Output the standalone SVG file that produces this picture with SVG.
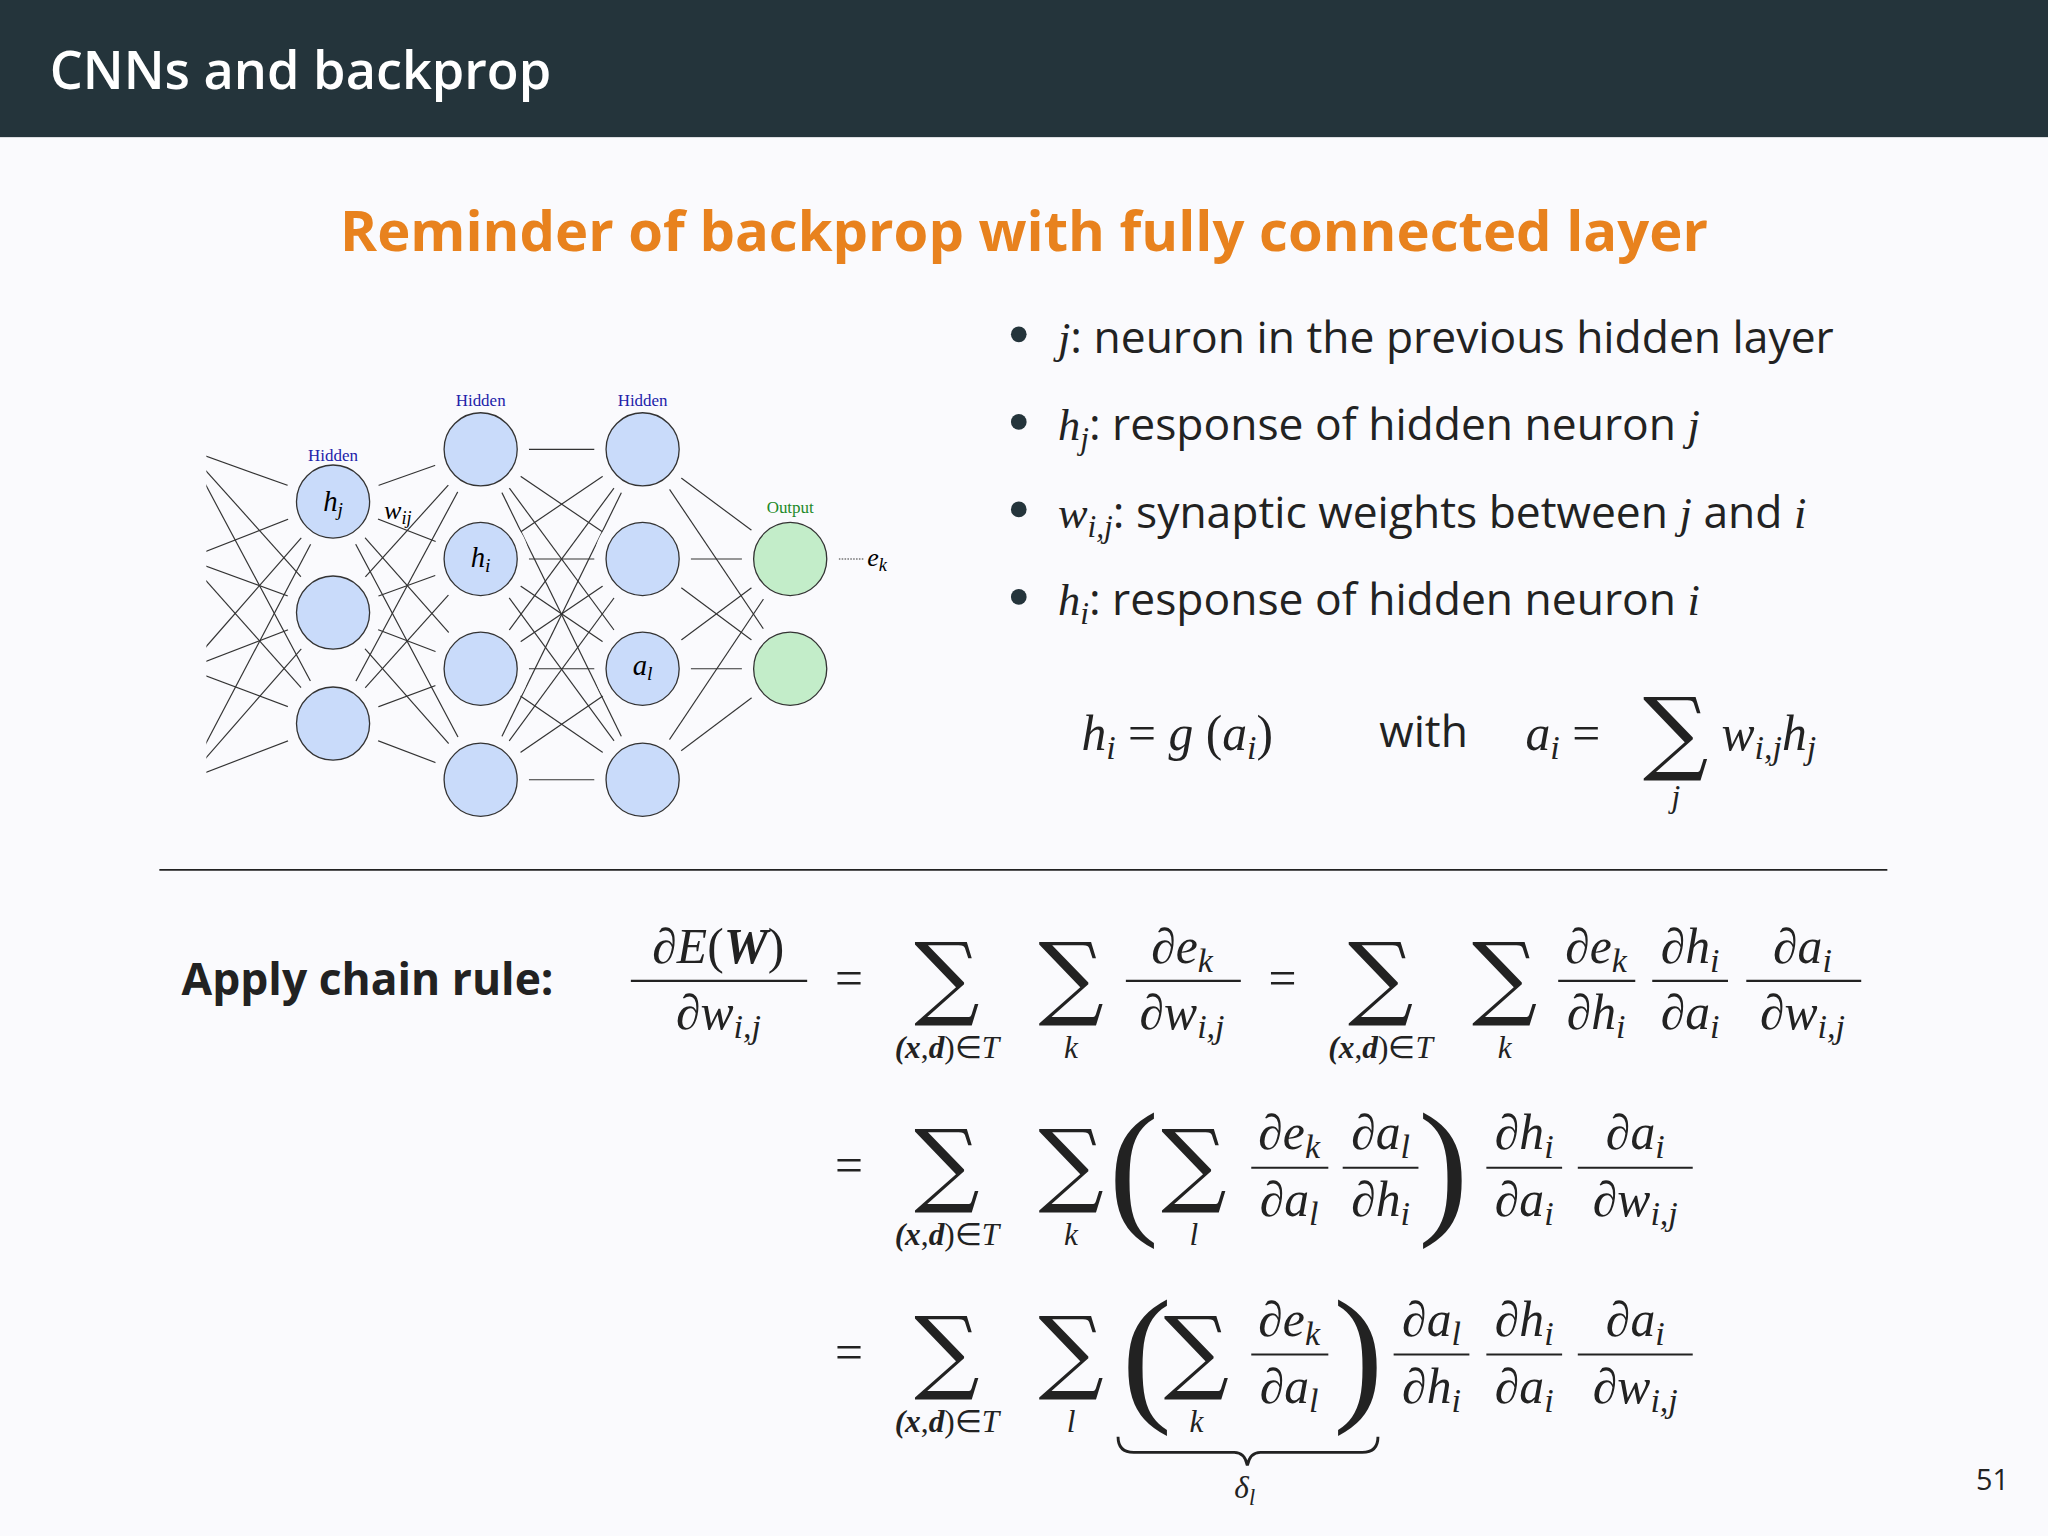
<svg xmlns="http://www.w3.org/2000/svg" width="2048" height="1536" viewBox="0 0 2048 1536">
<defs>
<style>
.t{font-family:"Open Sans","Liberation Sans",sans-serif}
.m{font-family:"Liberation Serif",serif;font-style:italic}
.r{font-family:"Liberation Serif",serif}
.e line{stroke:#333;stroke-width:0.9}
.n{fill:#c9dbfa;stroke:#333;stroke-width:1}
.o{fill:#c3edc9;stroke:#333;stroke-width:1}
.gap{fill:#fafafd}
.bar{stroke:#222;stroke-width:1.6}
.f{font-size:38px;text-anchor:middle;fill:#222}
.sm{font-size:24px;text-anchor:middle;fill:#222}
.sig{font-family:"DejaVu Serif",serif;font-size:70px;text-anchor:middle;fill:#222}
</style>
<clipPath id="cl"><rect x="158" y="250" width="600" height="450"/></clipPath>
</defs>
<rect width="2048" height="1536" fill="#fafafd"/>
<g transform="scale(1.30612)">
<rect x="0" y="0" width="1568" height="105" fill="#24343b"/>
<text class="t" x="38" y="68" font-size="40" font-weight="600" fill="#fff">CNNs and backprop</text>
<text class="t" x="784" y="192" font-size="43" font-weight="700" fill="#e8821e" text-anchor="middle">Reminder of backprop with fully connected layer</text>

<g id="connectors" class="e">
<g clip-path="url(#cl)">
<line x1="143" y1="344" x2="255" y2="384"/><line x1="143" y1="344" x2="255" y2="469"/><line x1="143" y1="344" x2="255" y2="554"/>
<line x1="143" y1="428" x2="255" y2="384"/><line x1="143" y1="428" x2="255" y2="469"/><line x1="143" y1="428" x2="255" y2="554"/>
<line x1="143" y1="512" x2="255" y2="384"/><line x1="143" y1="512" x2="255" y2="469"/><line x1="143" y1="512" x2="255" y2="554"/>
<line x1="143" y1="597" x2="255" y2="384"/><line x1="143" y1="597" x2="255" y2="469"/><line x1="143" y1="597" x2="255" y2="554"/>
</g>
<line x1="255" y1="384" x2="368" y2="344"/><line x1="255" y1="384" x2="368" y2="428"/><line x1="255" y1="384" x2="368" y2="512"/><line x1="255" y1="384" x2="368" y2="597"/>
<line x1="255" y1="469" x2="368" y2="344"/><line x1="255" y1="469" x2="368" y2="428"/><line x1="255" y1="469" x2="368" y2="512"/><line x1="255" y1="469" x2="368" y2="597"/>
<line x1="255" y1="554" x2="368" y2="344"/><line x1="255" y1="554" x2="368" y2="428"/><line x1="255" y1="554" x2="368" y2="512"/><line x1="255" y1="554" x2="368" y2="597"/>
<line x1="368" y1="344" x2="492" y2="344"/><line x1="368" y1="344" x2="492" y2="428"/><line x1="368" y1="344" x2="492" y2="512"/><line x1="368" y1="344" x2="492" y2="597"/>
<line x1="368" y1="428" x2="492" y2="344"/><line x1="368" y1="428" x2="492" y2="428"/><line x1="368" y1="428" x2="492" y2="512"/><line x1="368" y1="428" x2="492" y2="597"/>
<line x1="368" y1="512" x2="492" y2="344"/><line x1="368" y1="512" x2="492" y2="428"/><line x1="368" y1="512" x2="492" y2="512"/><line x1="368" y1="512" x2="492" y2="597"/>
<line x1="368" y1="597" x2="492" y2="344"/><line x1="368" y1="597" x2="492" y2="428"/><line x1="368" y1="597" x2="492" y2="512"/><line x1="368" y1="597" x2="492" y2="597"/>
<line x1="492" y1="344" x2="605" y2="428"/><line x1="492" y1="344" x2="605" y2="512"/>
<line x1="492" y1="428" x2="605" y2="428"/><line x1="492" y1="428" x2="605" y2="512"/>
<line x1="492" y1="512" x2="605" y2="428"/><line x1="492" y1="512" x2="605" y2="512"/>
<line x1="492" y1="597" x2="605" y2="428"/><line x1="492" y1="597" x2="605" y2="512"/>
<line x1="640" y1="428" x2="662" y2="428" stroke-dasharray="1.2 1"/>
</g>

<g id="nodes">
<g class="gap"><circle cx="255" cy="384" r="37"/><circle cx="255" cy="469" r="37"/><circle cx="255" cy="554" r="37"/>
<circle cx="368" cy="344" r="37"/><circle cx="368" cy="428" r="37"/><circle cx="368" cy="512" r="37"/><circle cx="368" cy="597" r="37"/>
<circle cx="492" cy="344" r="37"/><circle cx="492" cy="428" r="37"/><circle cx="492" cy="512" r="37"/><circle cx="492" cy="597" r="37"/>
<circle cx="605" cy="428" r="37"/><circle cx="605" cy="512" r="37"/></g>
<g id="n1"><circle class="n" cx="255" cy="384" r="28"/><text class="m" x="255" y="391" font-size="22" text-anchor="middle">h<tspan font-size="15" baseline-shift="-4">j</tspan></text></g>
<g id="n2"><circle class="n" cx="255" cy="469" r="28"/></g>
<g id="n3"><circle class="n" cx="255" cy="554" r="28"/></g>
<g id="n4"><circle class="n" cx="368" cy="344" r="28"/></g>
<g id="n5"><circle class="n" cx="368" cy="428" r="28"/><text class="m" x="368" y="434" font-size="22" text-anchor="middle">h<tspan font-size="15" baseline-shift="-4">i</tspan></text></g>
<g id="n6"><circle class="n" cx="368" cy="512" r="28"/></g>
<g id="n7"><circle class="n" cx="368" cy="597" r="28"/></g>
<g id="n8"><circle class="n" cx="492" cy="344" r="28"/></g>
<g id="n9"><circle class="n" cx="492" cy="428" r="28"/></g>
<g id="n10"><circle class="n" cx="492" cy="512" r="28"/><text class="m" x="492" y="517" font-size="22" text-anchor="middle">a<tspan font-size="15" baseline-shift="-4">l</tspan></text></g>
<g id="n11"><circle class="n" cx="492" cy="597" r="28"/></g>
<g id="n12"><circle class="o" cx="605" cy="428" r="28"/></g>
<g id="n13"><circle class="o" cx="605" cy="512" r="28"/></g>
<text class="r" x="255" y="353" font-size="13" fill="#2222aa" text-anchor="middle">Hidden</text>
<text class="r" x="368" y="311" font-size="13" fill="#2222aa" text-anchor="middle">Hidden</text>
<text class="r" x="492" y="311" font-size="13" fill="#2222aa" text-anchor="middle">Hidden</text>
<text class="r" x="605" y="393" font-size="13" fill="#1d8a2a" text-anchor="middle">Output</text>
<text class="m" x="294" y="397" font-size="20">w<tspan font-size="14" baseline-shift="-4">ij</tspan></text>
<text class="m" x="664" y="433" font-size="20">e<tspan font-size="14" baseline-shift="-4">k</tspan></text>
</g>

<g id="bullets" font-size="34" fill="#222">
<circle cx="780" cy="256" r="6" fill="#24343b"/><circle cx="780" cy="323" r="6" fill="#24343b"/><circle cx="780" cy="390" r="6" fill="#24343b"/><circle cx="780" cy="457" r="6" fill="#24343b"/>
<text class="t" x="810" y="270"><tspan class="m">j</tspan>:  neuron in the previous hidden layer</text>
<text class="t" x="810" y="337"><tspan class="m">h<tspan font-size="24" baseline-shift="-7">j</tspan></tspan>:  response of hidden neuron <tspan class="m">j</tspan></text>
<text class="t" x="810" y="404"><tspan class="m">w<tspan font-size="24" baseline-shift="-7">i,j</tspan></tspan>:  synaptic weights between <tspan class="m">j</tspan> and <tspan class="m">i</tspan></text>
<text class="t" x="810" y="471"><tspan class="m">h<tspan font-size="24" baseline-shift="-7">i</tspan></tspan>:  response of hidden neuron <tspan class="m">i</tspan></text>
</g>

<g id="formula" fill="#222">
<text class="m" x="828" y="574" font-size="38">h<tspan font-size="26" baseline-shift="-7">i</tspan><tspan class="r" font-style="normal"> = </tspan>g<tspan font-style="normal"> (</tspan>a<tspan font-size="26" baseline-shift="-7">i</tspan><tspan font-style="normal">)</tspan></text>
<text class="t" x="1056" y="572" font-size="34">with</text>
<text class="m" x="1168" y="574" font-size="38">a<tspan font-size="26" baseline-shift="-7">i</tspan><tspan font-style="normal"> =</tspan></text>
<text class="sig" x="1283" y="584">∑</text>
<text class="m sm" x="1283" y="618">j</text>
<text class="m" x="1318" y="574" font-size="38">w<tspan font-size="26" baseline-shift="-7">i,j</tspan>h<tspan font-size="26" baseline-shift="-7">j</tspan></text>
</g>

<line x1="122" y1="666" x2="1445" y2="666" stroke="#222" stroke-width="1.5"/>

<g id="chain" fill="#222">
<text class="t" x="139" y="762" font-size="34" font-weight="700">Apply chain rule:</text>
<!-- row 1 -->
<text class="m f" x="550" y="737">∂E<tspan font-style="normal">(</tspan><tspan font-weight="bold">W</tspan><tspan font-style="normal">)</tspan></text>
<line class="bar" x1="483" y1="751" x2="618" y2="751"/>
<text class="m f" x="550" y="788">∂w<tspan font-size="26" baseline-shift="-7">i,j</tspan></text>
<text class="r f" x="650" y="762">=</text>
<text class="sig" x="725" y="772">∑</text><text class="m sm" x="725" y="810"><tspan font-weight="bold">(x</tspan><tspan font-style="normal">,</tspan><tspan font-weight="bold">d</tspan><tspan font-style="normal">)∈</tspan>T</text>
<text class="sig" x="820" y="772">∑</text><text class="m sm" x="820" y="810">k</text>
<text class="m f" x="905" y="737">∂e<tspan font-size="26" baseline-shift="-7">k</tspan></text>
<line class="bar" x1="862" y1="751" x2="950" y2="751"/>
<text class="m f" x="905" y="788">∂w<tspan font-size="26" baseline-shift="-7">i,j</tspan></text>
<text class="r f" x="982" y="762">=</text>
<text class="sig" x="1057" y="772">∑</text><text class="m sm" x="1057" y="810"><tspan font-weight="bold">(x</tspan><tspan font-style="normal">,</tspan><tspan font-weight="bold">d</tspan><tspan font-style="normal">)∈</tspan>T</text>
<text class="sig" x="1152" y="772">∑</text><text class="m sm" x="1152" y="810">k</text>
<text class="m f" x="1222" y="737">∂e<tspan font-size="26" baseline-shift="-7">k</tspan></text>
<line class="bar" x1="1193" y1="751" x2="1252" y2="751"/>
<text class="m f" x="1222" y="788">∂h<tspan font-size="26" baseline-shift="-7">i</tspan></text>
<text class="m f" x="1294" y="737">∂h<tspan font-size="26" baseline-shift="-7">i</tspan></text>
<line class="bar" x1="1265" y1="751" x2="1323" y2="751"/>
<text class="m f" x="1294" y="788">∂a<tspan font-size="26" baseline-shift="-7">i</tspan></text>
<text class="m f" x="1380" y="737">∂a<tspan font-size="26" baseline-shift="-7">i</tspan></text>
<line class="bar" x1="1337" y1="751" x2="1425" y2="751"/>
<text class="m f" x="1380" y="788">∂w<tspan font-size="26" baseline-shift="-7">i,j</tspan></text>
<!-- row 2 -->
<text class="r f" x="650" y="905">=</text>
<text class="sig" x="725" y="915">∑</text><text class="m sm" x="725" y="953"><tspan font-weight="bold">(x</tspan><tspan font-style="normal">,</tspan><tspan font-weight="bold">d</tspan><tspan font-style="normal">)∈</tspan>T</text>
<text class="sig" x="820" y="915">∑</text><text class="m sm" x="820" y="953">k</text>
<text class="r" x="868" y="932" font-size="115" text-anchor="middle">(</text>
<text class="sig" x="914" y="915">∑</text><text class="m sm" x="914" y="953">l</text>
<text class="m f" x="987" y="880">∂e<tspan font-size="26" baseline-shift="-7">k</tspan></text>
<line class="bar" x1="958" y1="894" x2="1017" y2="894"/>
<text class="m f" x="987" y="931">∂a<tspan font-size="26" baseline-shift="-7">l</tspan></text>
<text class="m f" x="1057" y="880">∂a<tspan font-size="26" baseline-shift="-7">l</tspan></text>
<line class="bar" x1="1028" y1="894" x2="1086" y2="894"/>
<text class="m f" x="1057" y="931">∂h<tspan font-size="26" baseline-shift="-7">i</tspan></text>
<text class="r" x="1105" y="932" font-size="115" text-anchor="middle">)</text>
<text class="m f" x="1167" y="880">∂h<tspan font-size="26" baseline-shift="-7">i</tspan></text>
<line class="bar" x1="1138" y1="894" x2="1196" y2="894"/>
<text class="m f" x="1167" y="931">∂a<tspan font-size="26" baseline-shift="-7">i</tspan></text>
<text class="m f" x="1252" y="880">∂a<tspan font-size="26" baseline-shift="-7">i</tspan></text>
<line class="bar" x1="1208" y1="894" x2="1296" y2="894"/>
<text class="m f" x="1252" y="931">∂w<tspan font-size="26" baseline-shift="-7">i,j</tspan></text>
<!-- row 3 -->
<text class="r f" x="650" y="1048">=</text>
<text class="sig" x="725" y="1058">∑</text><text class="m sm" x="725" y="1096"><tspan font-weight="bold">(x</tspan><tspan font-style="normal">,</tspan><tspan font-weight="bold">d</tspan><tspan font-style="normal">)∈</tspan>T</text>
<text class="sig" x="820" y="1058">∑</text><text class="m sm" x="820" y="1096">l</text>
<text class="r" x="878" y="1075" font-size="115" text-anchor="middle">(</text>
<text class="sig" x="916" y="1058">∑</text><text class="m sm" x="916" y="1096">k</text>
<text class="m f" x="987" y="1023">∂e<tspan font-size="26" baseline-shift="-7">k</tspan></text>
<line class="bar" x1="958" y1="1037" x2="1017" y2="1037"/>
<text class="m f" x="987" y="1074">∂a<tspan font-size="26" baseline-shift="-7">l</tspan></text>
<text class="r" x="1040" y="1075" font-size="115" text-anchor="middle">)</text>
<path d="M856 1100 Q856 1112 868 1112 L945 1112 Q953 1112 955 1122 Q957 1112 965 1112 L1043 1112 Q1055 1112 1055 1100" fill="none" stroke="#222" stroke-width="2.2"/>
<text class="m sm" x="953" y="1147">δ<tspan font-size="17" baseline-shift="-5">l</tspan></text>
<text class="m f" x="1096" y="1023">∂a<tspan font-size="26" baseline-shift="-7">l</tspan></text>
<line class="bar" x1="1067" y1="1037" x2="1125" y2="1037"/>
<text class="m f" x="1096" y="1074">∂h<tspan font-size="26" baseline-shift="-7">i</tspan></text>
<text class="m f" x="1167" y="1023">∂h<tspan font-size="26" baseline-shift="-7">i</tspan></text>
<line class="bar" x1="1138" y1="1037" x2="1196" y2="1037"/>
<text class="m f" x="1167" y="1074">∂a<tspan font-size="26" baseline-shift="-7">i</tspan></text>
<text class="m f" x="1252" y="1023">∂a<tspan font-size="26" baseline-shift="-7">i</tspan></text>
<line class="bar" x1="1208" y1="1037" x2="1296" y2="1037"/>
<text class="m f" x="1252" y="1074">∂w<tspan font-size="26" baseline-shift="-7">i,j</tspan></text>
</g>
<text class="t" x="1538" y="1141" font-size="22" fill="#222" text-anchor="end">51</text>
</g>
</svg>
